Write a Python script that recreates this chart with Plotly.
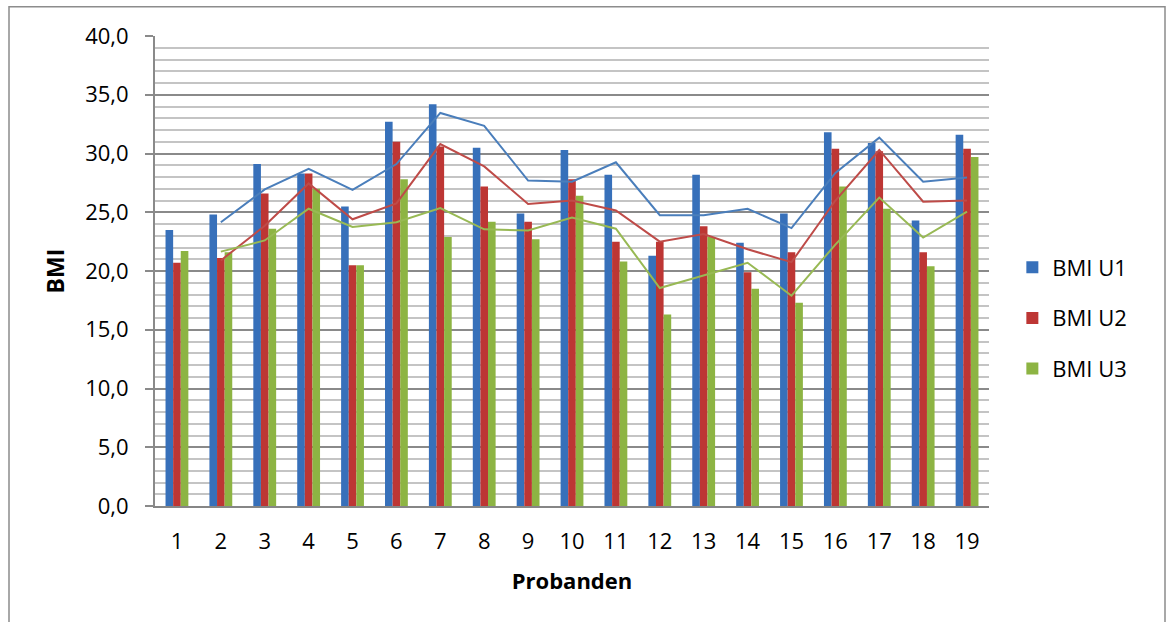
import plotly.graph_objects as go

probanden = list(range(1, 20))
tick_labels = [str(i) for i in probanden]

bmi_u1 = [23.5, 24.8, 29.1, 28.3, 25.5, 32.7, 34.2, 30.5, 24.9, 30.3, 28.2, 21.3, 28.2, 22.4, 24.9, 31.8, 30.9, 24.3, 31.6]
bmi_u2 = [20.7, 21.1, 26.6, 28.3, 20.5, 31.0, 30.6, 27.2, 24.2, 27.8, 22.5, 22.5, 23.8, 19.9, 21.6, 30.4, 30.2, 21.6, 30.4]
bmi_u3 = [21.7, 21.6, 23.6, 27.0, 20.5, 27.8, 22.9, 24.2, 22.7, 26.4, 20.8, 16.3, 22.9, 18.5, 17.3, 27.2, 25.3, 20.4, 29.7]

# trend lines (2-period moving average as drawn), for Probanden 2..19
trend_x = list(range(2, 20))
trend_u1 = [24.15, 26.95, 28.7, 26.9, 29.1, 33.45, 32.35, 27.7, 27.6, 29.25, 24.75, 24.75, 25.3, 23.65, 28.35, 31.35, 27.6, 27.95]
trend_u2 = [20.9, 23.85, 27.45, 24.4, 25.75, 30.8, 28.9, 25.7, 26.0, 25.15, 22.5, 23.15, 21.85, 20.75, 26.0, 30.3, 25.9, 26.0]
trend_u3 = [21.65, 22.6, 25.3, 23.75, 24.15, 25.35, 23.55, 23.45, 24.55, 23.6, 18.55, 19.6, 20.7, 17.9, 22.25, 26.25, 22.85, 25.05]

series = [
    ("BMI U1", bmi_u1, "#3770ba", trend_u1, "#4a7ebb"),
    ("BMI U2", bmi_u2, "#bd3634", trend_u2, "#be4b48"),
    ("BMI U3", bmi_u3, "#8db443", trend_u3, "#98b954"),
]

FONT = "Open Sans"
fig = go.Figure()
for i, (name, vals, col, _, _) in enumerate(series):
    fig.add_trace(go.Bar(x=probanden, y=vals, name=name, marker=dict(color=col, line=dict(width=0)),
                         legendgroup=f"g{i}"))
for i, (name, _, _, tr, lcol) in enumerate(series):
    fig.add_trace(go.Scatter(x=trend_x, y=tr, mode="lines", line=dict(color=lcol, width=2),
                             showlegend=False, hoverinfo="skip"))

fig.update_layout(
    width=1166, height=622,
    margin=dict(l=155, r=177, t=36, b=116),
    paper_bgcolor="white", plot_bgcolor="white",
    barmode="group", bargap=0.48, bargroupgap=0,
    separators=",.",
    font=dict(family=FONT, size=22, color="#000000"),
    legend=dict(x=1.028, y=0.40, xanchor="left", yanchor="middle",
                font=dict(family=FONT, size=22), tracegroupgap=19,
                itemwidth=30, bgcolor="rgba(0,0,0,0)"),
    xaxis=dict(range=[0.5, 19.5], tickmode="array", tickvals=probanden, ticktext=tick_labels,
               showgrid=False, zeroline=False, showline=True, linecolor="#868686", linewidth=2,
               ticks="", ticklabelstandoff=15,
               title=dict(text="<b>Probanden</b>", font=dict(family=FONT, size=22), standoff=19)),
    yaxis=dict(range=[0, 40], dtick=5, tickformat=".1f",
               showgrid=True, gridcolor="#8a8a8a", gridwidth=2,
               minor=dict(dtick=1, showgrid=True, gridcolor="#c4c4c4", gridwidth=2),
               zeroline=False, showline=True, linecolor="#8a8a8a", linewidth=2,
               ticks="outside", ticklen=8, tickcolor="#8a8a8a", tickwidth=2, ticklabelstandoff=12,
               title=dict(text="<b>BMI</b>", font=dict(family=FONT, size=23), standoff=14)),
    shapes=[dict(type="rect", xref="paper", yref="paper",
                 x0=(9 - 155) / 834, x1=(1165 - 155) / 834,
                 y0=(506 - 640) / 470.3, y1=(506 - 6.5) / 470.3,
                 line=dict(color="#8c8c8c", width=1.5), fillcolor="rgba(0,0,0,0)", layer="below")],
)

fig.write_html("out.html")
